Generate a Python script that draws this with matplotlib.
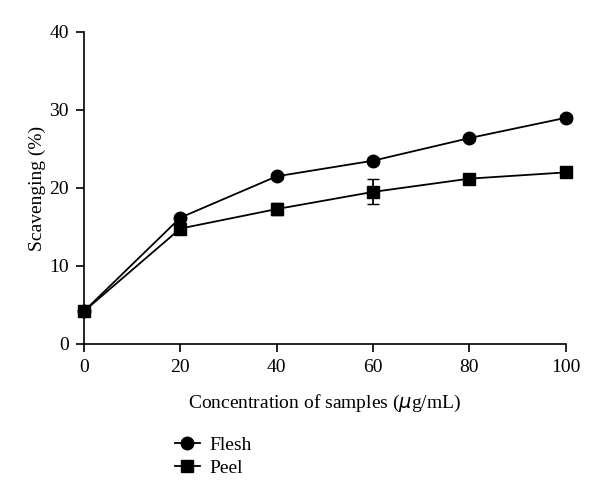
import matplotlib
matplotlib.use('Agg')
import matplotlib.pyplot as plt
from matplotlib.lines import Line2D

plt.rcParams['font.family'] = ['Liberation Serif', 'DejaVu Serif']

conc = [0, 20, 40, 60, 80, 100]
flesh = [4.2, 16.2, 21.5, 23.5, 26.4, 29.0]
flesh_err = [0.3, 0.3, 0.3, 0.3, 0.3, 0.3]
peel = [4.2, 14.8, 17.3, 19.5, 21.2, 22.0]
peel_err = [0.3, 0.4, 0.8, 1.6, 0.3, 0.3]

fig = plt.figure(figsize=(6, 5), dpi=100)
ax = fig.add_axes([0.14, 0.312, 0.803, 0.624])

ax.errorbar(conc, flesh, yerr=flesh_err, color='black', marker='o', markersize=9,
            linewidth=1.3, capsize=4, elinewidth=1.3, clip_on=False)
ax.errorbar(conc, peel, yerr=peel_err, color='black', marker='s', markersize=9,
            linewidth=1.3, capsize=4, elinewidth=1.3, clip_on=False)

ax.set_xlim(0, 100)
ax.set_ylim(0, 40)
ax.set_xticks([0, 20, 40, 60, 80, 100])
ax.set_yticks([0, 10, 20, 30, 40])
ax.spines['top'].set_visible(False)
ax.spines['right'].set_visible(False)
ax.spines['left'].set_linewidth(1.2)
ax.spines['bottom'].set_linewidth(1.2)
ax.tick_params(direction='out', length=6, width=1.2, labelsize=14, pad=5)
ax.set_xlabel('Concentration of samples ($\\mu$g/mL)', fontsize=14, labelpad=12)
ax.set_ylabel('Scavenging (%)', fontsize=14, labelpad=2)

handles = [Line2D([], [], color='black', marker='o', markersize=9, linewidth=1.3),
           Line2D([], [], color='black', marker='s', markersize=9, linewidth=1.3)]
fig.legend(handles=handles, labels=['Flesh', 'Peel'], loc='upper left',
           bbox_to_anchor=(0.262, 0.162), frameon=False, fontsize=14,
           handlelength=1.3, handletextpad=0.5, labelspacing=0.25)

fig.savefig('out.png', dpi=100)
